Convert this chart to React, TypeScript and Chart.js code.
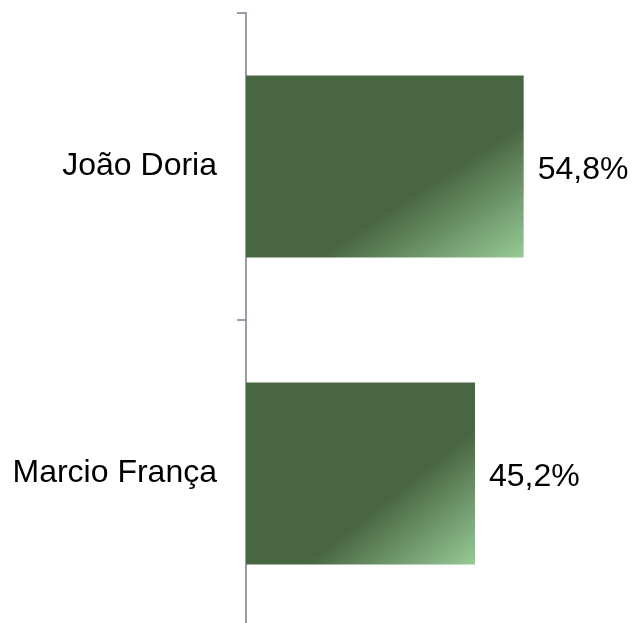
import React, { useEffect, useRef } from "react";
import { Chart, registerables } from "chart.js";

Chart.register(...registerables);

const categories = ["João Doria", "Marcio França"];
const votes = [54.8, 45.2];
const xMax = 75;

const DARK = "#486641";
const LIGHT = "#98ca97";
const AXIS = "#979ea8";
const FONT = "'Liberation Sans', Arial, sans-serif";
const BAR_PCT = 0.593;

export default function App() {
  const ref = useRef<HTMLCanvasElement | null>(null);

  useEffect(() => {
    const canvas = ref.current;
    if (!canvas) return;

    const valueLabels = {
      id: "valueLabels",
      afterDatasetsDraw(chart: any) {
        const ctx = chart.ctx;
        const meta = chart.getDatasetMeta(0);
        ctx.save();
        ctx.font = `32px ${FONT}`;
        ctx.fillStyle = "#000";
        ctx.textAlign = "left";
        ctx.textBaseline = "alphabetic";
        meta.data.forEach((el: any, i: number) => {
          const txt = votes[i].toFixed(1).replace(".", ",") + "%";
          ctx.fillText(txt, el.x + 14, el.y + 12);
        });
        ctx.restore();
      },
    };

    const bg = (c: any) => {
      const chart = c.chart;
      const xs = chart.scales?.x;
      const ys = chart.scales?.y;
      const area = chart.chartArea;
      if (!xs || !ys || !area || c.raw == null) return DARK;
      const L = xs.getPixelForValue(0);
      const R = xs.getPixelForValue(c.raw);
      const band = (area.bottom - area.top) / categories.length;
      const H = band * BAR_PCT;
      const cy = ys.getPixelForValue(c.dataIndex);
      const T = cy - H / 2;
      const W = Math.max(1, R - L);
      const k = 2 / (1 / (W * W) + 1 / (H * H));
      const g = chart.ctx.createLinearGradient(L, T, L + k / W, T + k / H);
      g.addColorStop(0, DARK);
      g.addColorStop(0.63, DARK);
      g.addColorStop(1, LIGHT);
      return g;
    };

    const chart = new Chart(canvas, {
      type: "bar",
      data: {
        labels: categories,
        datasets: [
          {
            data: votes,
            backgroundColor: bg,
            borderWidth: 0,
            categoryPercentage: 1,
            barPercentage: BAR_PCT,
          },
        ],
      },
      options: {
        indexAxis: "y",
        responsive: false,
        animation: false,
        layout: { padding: { top: 13, bottom: 13, left: 0, right: 7 } },
        plugins: {
          legend: { display: false },
          tooltip: { enabled: false },
        },
        scales: {
          x: {
            display: false,
            min: 0,
            max: xMax,
          },
          y: {
            afterFit: (s: any) => {
              s.width = 246;
              s.paddingTop = 0;
              s.paddingBottom = 0;
            },
            border: { display: true, color: AXIS, width: 2 },
            grid: {
              offset: true,
              drawOnChartArea: false,
              drawTicks: true,
              tickLength: 9,
              color: AXIS,
              lineWidth: 2,
            },
            ticks: {
              padding: 20,
              color: "#000",
              font: { family: FONT, size: 32 },
            },
          },
        },
      },
      plugins: [valueLabels],
    });

    return () => chart.destroy();
  }, []);

  return (
    <div
      style={{
        position: "fixed",
        left: 0,
        top: 0,
        width: 633,
        height: 623,
        overflow: "hidden",
        background: "#fff",
      }}
    >
      <canvas ref={ref} width={633} height={640} style={{ display: "block" }} />
    </div>
  );
}
